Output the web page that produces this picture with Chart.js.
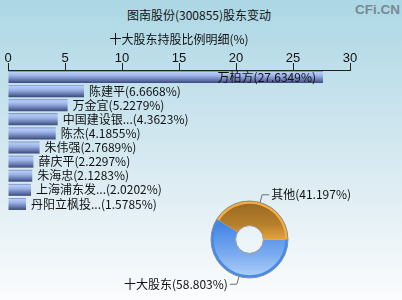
<!DOCTYPE html>
<html><head><meta charset="utf-8">
<script src="https://cdn.jsdelivr.net/npm/chart.js@4.4.1/dist/chart.umd.min.js"></script>
<style>
html,body{margin:0;padding:0;}
body{width:402px;height:300px;overflow:hidden;position:relative;background:linear-gradient(to bottom,#acd7e5 0%,#d8eaf1 55%,#fbfcfd 100%);font-family:"Noto Sans CJK SC";}
#title{position:absolute;left:0;top:8px;width:398px;text-align:center;font-size:12px;line-height:14px;color:#111;}
#wm{position:absolute;left:355px;top:2px;font:bold 13.5px "Liberation Sans";color:#7b8892;}
#bar{position:absolute;left:0;top:0;}
#pie{position:absolute;left:100px;top:180px;}
</style></head><body>
<div id="title">图南股份(300855)股东变动</div>
<div id="wm">CFi.CN</div>
<canvas id="bar" width="402" height="300"></canvas>
<canvas id="pie" width="300" height="120"></canvas>
<script>
const holders = ['万柏方','陈建平','万金宜','中国建设银...','陈杰','朱伟强','薛庆平','朱海忠','上海浦东发...','丹阳立枫投...'];
const holderPct = [27.6349, 6.6668, 5.2279, 4.3623, 4.1855, 2.7689, 2.2297, 2.1283, 2.0202, 1.5785];
const xMin = 0, xMax = 30, xStep = 5;
const subTitle = '十大股东持股比例明细(%)';
const pieLabels = ['其他','十大股东'];
const pieValues = [41.197, 58.803];

const CJK = '"Noto Sans CJK SC"';

function barFill(ctx){
  const chart = ctx.chart;
  if(!chart.chartArea || !chart.scales.y) return '#90a8e0';
  const ys = chart.scales.y;
  const yc = ys.getPixelForValue(ctx.dataIndex);
  const h = (ys.height / holders.length) * 0.85;
  const g = chart.ctx.createLinearGradient(0, yc - h/2, 0, yc + h/2);
  g.addColorStop(0, '#6f82b8');
  g.addColorStop(0.12, '#b6cdf8');
  g.addColorStop(0.4, '#9bb2e6');
  g.addColorStop(0.75, '#6476ad');
  g.addColorStop(1, '#3c4878');
  return g;
}

const barLabelPlugin = {
  id:'barLabels',
  afterDatasetsDraw(chart){
    const c = chart.ctx;
    const meta = chart.getDatasetMeta(0);
    c.save();
    c.font = '12px ' + CJK;
    c.fillStyle = '#111';
    c.textBaseline = 'middle';
    meta.data.forEach((bar,i)=>{
      const t = holders[i] + '(' + holderPct[i].toFixed(4) + '%)';
      const w = c.measureText(t).width;
      let x = bar.x + 5, align = 'left';
      if (x + w > chart.width) { x = bar.x - 7; align = 'right'; }
      c.textAlign = align;
      c.fillText(t, x, bar.y);
    });
    c.restore();
  }
};

new Chart(document.getElementById('bar'), {
  type:'bar',
  data:{labels:holders, datasets:[{data:holderPct, backgroundColor:barFill, borderWidth:0, barPercentage:1, categoryPercentage:0.85}]},
  options:{
    indexAxis:'y', responsive:false, animation:false,
    layout:{padding:{top:24,left:8,right:52,bottom:89}},
    scales:{
      x:{position:'top', min:xMin, max:xMax,
         ticks:{stepSize:xStep, font:{family:'Liberation Sans', size:13}, color:'#111', padding:-3.5},
         grid:{drawOnChartArea:false, drawTicks:true, tickLength:7, color:'#222'},
         border:{display:true, color:'#222'},
         afterFit(s){ s.height = 22; }},
      y:{display:false}
    },
    plugins:{
      legend:{display:false}, tooltip:{enabled:false},
      title:{display:true, text:subTitle, color:'#111', font:{family:'Noto Sans CJK SC', size:12, weight:'normal'}, padding:{top:7.8,bottom:1.8}}
    }
  },
  plugins:[barLabelPlugin]
});

function pieFill(ctx){
  const chart = ctx.chart, ca = chart.chartArea;
  if(!ca) return ctx.dataIndex===0 ? '#e8a035' : '#5a96e8';
  const g = chart.ctx.createLinearGradient(0, ca.top, 0, ca.bottom);
  if(ctx.dataIndex===0){
    g.addColorStop(0,'#98671f'); g.addColorStop(0.3,'#b47e2c'); g.addColorStop(0.5,'#e9a238'); g.addColorStop(1,'#f6b84c');
  } else {
    g.addColorStop(0,'#2f6fd8'); g.addColorStop(0.3,'#4484e4'); g.addColorStop(0.7,'#7cacf0'); g.addColorStop(1,'#b2d2fa');
  }
  return g;
}

const pieDecor = {
  id:'pieDecor',
  afterDatasetsDraw(chart){
    const c = chart.ctx;
    const arcs = chart.getDatasetMeta(0).data;
    const a0 = arcs[0];
    const r = a0.outerRadius, ir = a0.innerRadius, cx = a0.x, cy = a0.y;
    c.save();
    arcs.forEach((a,i)=>{
      c.beginPath(); c.arc(cx, cy, r-1.5, a.startAngle, a.endAngle);
      c.lineWidth = 2.5; c.strokeStyle = i===0 ? '#f6ae3c' : '#3f8cf0'; c.stroke();
    });
    c.lineWidth = 1;
    c.beginPath(); c.arc(cx, cy, r, 0, 2*Math.PI); c.strokeStyle = '#8c8c8c'; c.stroke();
    c.beginPath(); c.arc(cx, cy, ir, 0, 2*Math.PI); c.strokeStyle = '#9a9a9a'; c.stroke();
    c.font = '12px ' + CJK;
    c.textBaseline = 'middle';
    arcs.forEach((a,i)=>{
      const mid = (a.startAngle + a.endAngle)/2;
      const x0 = cx + Math.cos(mid)*r, y0 = cy + Math.sin(mid)*r;
      const x1 = cx + Math.cos(mid)*(r+8), y1 = cy + Math.sin(mid)*(r+8);
      const right = Math.cos(mid) >= 0;
      const x2 = x1 + (right ? 7 : -7);
      c.beginPath(); c.moveTo(x0,y0); c.lineTo(x1,y1); c.lineTo(x2,y1);
      c.strokeStyle = '#6e6e6e'; c.stroke();
      c.fillStyle = '#111';
      c.textAlign = right ? 'left' : 'right';
      c.fillText(pieLabels[i] + '(' + pieValues[i] + '%)', x2 + (right ? 2 : -2), y1);
    });
    c.restore();
  }
};

const pieTotal = pieValues.reduce((s,v)=>s+v,0);
new Chart(document.getElementById('pie'), {
  type:'doughnut',
  data:{labels:pieLabels, datasets:[{data:pieValues, backgroundColor:pieFill, borderWidth:0}]},
  options:{
    responsive:false, animation:false,
    rotation: 90 - pieValues[0]/pieTotal*360,
    cutout:'36%',
    layout:{padding:{left:111,right:112,top:21,bottom:22}},
    plugins:{legend:{display:false}, tooltip:{enabled:false}}
  },
  plugins:[pieDecor]
});
</script>
</body></html>
